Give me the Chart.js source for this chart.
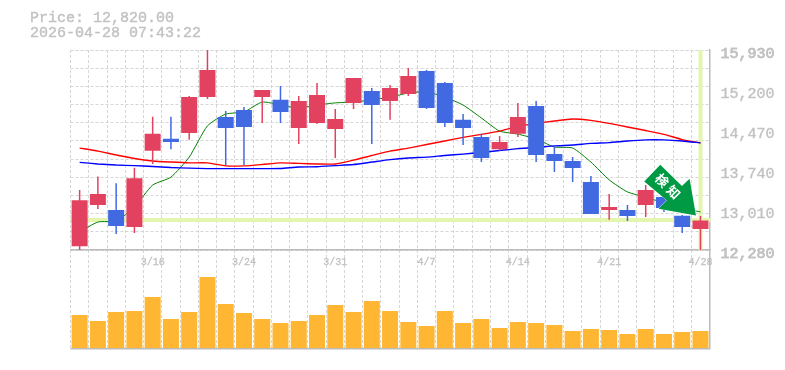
<!DOCTYPE html>
<html>
<head>
<meta charset="utf-8">
<script src="https://cdn.jsdelivr.net/npm/chart.js@4"></script>
<style>
    body { margin: 0; background: #fff; }
    #wrap { position: relative; width: 785px; height: 370px; }
    #title { position: absolute; left: 30px; top: 11px; color: #c2c2c2; font: 15px/15px "Liberation Mono", monospace; white-space: pre; -webkit-text-stroke: 0.4px #c2c2c2; }
</style>
</head>
<body>
<div id="wrap">
    <canvas id="myChart" width="785" height="370"></canvas>
    <div id="title"></div>
</div>
<script>
const labels = ['3/10', '3/11', '3/12', '3/13', '3/16', '3/17', '3/18', '3/19', '3/23', '3/24', '3/25', '3/26',
    '3/27', '3/30', '3/31', '4/1', '4/2', '4/3', '4/6', '4/7', '4/8', '4/9', '4/10', '4/13', '4/14', '4/15',
    '4/16', '4/17', '4/20', '4/21', '4/22', '4/23', '4/24', '4/27', '4/28'];
const shownDates = ['3/16', '3/24', '3/31', '4/7', '4/14', '4/21', '4/28'];
const priceTicks = [15930, 15200, 14470, 13740, 13010, 12280];

const open = [12350, 13100, 13010, 12700, 14090, 14310, 14415, 15070, 14705, 14835, 15070, 15020, 14505, 14600, 14490,
    14965, 15180, 15000, 15125, 15545, 15330, 14655, 14340, 14120, 14400, 14910, 14030, 13905, 13520, 13010,
    13010, 13100, 13245, 12905, 12665];
const close = [13190, 13300, 12720, 13590, 14400, 14250, 15070, 15565, 14505, 14525, 15200, 14800, 15000, 15110, 14670,
    15420, 14925, 15235, 15455, 14870, 14600, 14505, 13960, 14250, 14705, 14015, 13905, 13775, 12935, 13065,
    12900, 13375, 13045, 12700, 12820];
const high = [13375, 13620, 13500, 13780, 14710, 14710, 15090, 15930, 14815, 14890, 15200, 15275, 15090, 15330, 14855,
    15420, 15235, 15290, 15600, 15565, 15345, 14760, 14400, 14360, 14965, 15000, 14180, 13975, 13630, 13300,
    13100, 13465, 13375, 12920, 12900];
const low = [12280, 13030, 12570, 12590, 13850, 14120, 14290, 15035, 13830, 13830, 14600, 14600, 14215, 14580, 13960,
    14855, 14215, 14655, 15090, 14855, 14525, 14195, 13885, 14090, 14340, 13885, 13705, 13520, 12935, 12830,
    12810, 12880, 12975, 12590, 12280];

const maShort = [12610, 12790, 12810, 13065, 13465, 13610, 13975, 14545, 14760, 14800, 14980, 14925, 14870, 14925, 14965,
    14980, 15020, 15070, 15145, 15165, 15070, 14925, 14690, 14450, 14395, 14305, 14160, 14140, 13885, 13560,
    13340, 13245, 13140, 13045, 12975];
const maMid = [14140, 14085, 14015, 13950, 13905, 13885, 13870, 13870, 13815, 13815, 13840, 13870, 13860, 13850, 13850,
    13920, 14005, 14085, 14140, 14205, 14270, 14335, 14390, 14450, 14535, 14590, 14635, 14670, 14645, 14590,
    14525, 14460, 14390, 14295, 14235];
const maLong = [13880, 13850, 13830, 13820, 13805, 13785, 13775, 13765, 13765, 13765, 13765, 13768, 13795, 13800, 13820,
    13840, 13885, 13930, 13960, 13975, 14005, 14030, 14060, 14095, 14130, 14150, 14180, 14195, 14225, 14240,
    14270, 14290, 14290, 14270, 14235];
const volume = [165, 135, 180, 185, 255, 145, 180, 355, 220, 175, 145, 125, 135, 165, 215,
    180, 235, 185, 130, 110, 185, 125, 145, 100, 130, 125, 115, 85, 95, 90,
    70, 95, 70, 80, 85];

const signalText = ['検', '知'];

const RED = '#e2425f';
const BLUE = '#4169e1';
const GRID = '#d6d6d6';
const AXIS = '#bbbbbb';
const TEXT = '#c2c2c2';
const HILITE = '#e4f6ae';
const FONT = '"Liberation Mono", monospace';

const lastIndex = labels.length - 1;
const lastPrice = close[lastIndex];
const candleColors = close.map((c, i) => c >= open[i] ? RED : BLUE);

document.getElementById('title').textContent =
    'Price: ' + lastPrice.toLocaleString('en-US', { minimumFractionDigits: 2 }) + '\n2026-04-28 07:43:22';

// horizontal grid is 11 steps, the labels are 5 steps, so they don't line up
const priceMin = priceTicks[priceTicks.length - 1];
const priceMax = priceTicks[0];
const gridTicks = [];
for (let i = 0; i <= 11; i++) {
    gridTicks.push(priceMin + (priceMax - priceMin) * i / 11);
}

const highlightPlugin = {
    id: 'highlight',
    beforeDatasetsDraw(chart) {
        const c = chart.ctx, area = chart.chartArea;
        const y = Math.round(chart.scales.y.getPixelForValue(lastPrice));
        const x = Math.round(chart.scales.x.getPixelForValue(lastIndex));
        c.save();
        c.fillStyle = HILITE;
        c.fillRect(area.left, y - 2, area.right - area.left + 1, 4);
        c.fillRect(x - 1.5, chart.scales.y.top, 4, chart.scales.y.height);
        c.restore();
    }
};

// green signal arrow, tip sits just left of the last candle
const arrowPlugin = {
    id: 'signalArrow',
    afterDatasetsDraw(chart) {
        const c = chart.ctx;
        const tipX = chart.scales.x.getPixelForValue(lastIndex) - 4.5;
        const tipY = chart.scales.y.getPixelForValue(lastPrice) - 5;
        c.save();
        c.translate(tipX, tipY);
        c.beginPath();
        [[-35.7, -50.7], [-14, -29.3], [-6.4, -36.7], [0, 0], [-37.4, -6.7], [-29, -15], [-51.7, -34]]
            .forEach((p, i) => i ? c.lineTo(p[0], p[1]) : c.moveTo(p[0], p[1]));
        c.closePath();
        c.strokeStyle = 'rgba(255,255,255,0.8)';
        c.lineWidth = 1;
        c.stroke();
        c.fillStyle = '#009944';
        c.fill();
        c.fillStyle = '#fff';
        c.font = 'bold 13px "Noto Sans CJK JP"';
        c.textAlign = 'center';
        c.textBaseline = 'middle';
        [[-34, -35], [-22.4, -23.3]].forEach((p, i) => {
            c.save();
            c.translate(p[0], p[1]);
            c.rotate(Math.PI / 4);
            c.fillText(signalText[i], 0, 0);
            c.restore();
        });
        c.restore();
    }
};

new Chart(document.getElementById('myChart'), {
    data: {
        labels: labels,
        datasets: [
            { type: 'bar', yAxisID: 'y', order: 1, grouped: false, barThickness: 16, inflateAmount: 0,
                data: open.map((o, i) => [o, close[i]]), backgroundColor: candleColors },
            { type: 'bar', yAxisID: 'y', order: 2, grouped: false, barThickness: 1.5, inflateAmount: 0,
                data: low.map((l, i) => [l, high[i]]), backgroundColor: candleColors },
            { type: 'line', yAxisID: 'y', order: 3, data: maLong, borderColor: '#0000ff', borderWidth: 1.4, pointRadius: 0, tension: 0.2 },
            { type: 'line', yAxisID: 'y', order: 4, data: maMid, borderColor: '#ff0000', borderWidth: 1.4, pointRadius: 0, tension: 0.2 },
            { type: 'line', yAxisID: 'y', order: 5, data: maShort, borderColor: '#008000', borderWidth: 1, pointRadius: 0, tension: 0.2 },
            { type: 'bar', yAxisID: 'yv', order: 6, grouped: false, barThickness: 16, inflateAmount: 0,
                data: volume, backgroundColor: '#ffb733' }
        ]
    },
    options: {
        responsive: false,
        animation: false,
        layout: { padding: { left: 70.5, top: 50, bottom: 21, right: 0 } },
        plugins: { legend: { display: false }, tooltip: { enabled: false } },
        scales: {
            x: {
                type: 'category',
                position: { yv: 490 },
                offset: true,
                grid: { offset: true, color: GRID, drawTicks: false, lineWidth: 1 },
                border: { color: AXIS, width: 1.5, dash: [3, 2] },
                ticks: {
                    autoSkip: false,
                    maxRotation: 0,
                    padding: 6,
                    color: TEXT,
                    textStrokeColor: TEXT,
                    textStrokeWidth: 0.3,
                    font: { family: FONT, size: 10 },
                    callback(value) {
                        const d = this.getLabelForValue(value);
                        return shownDates.includes(d) ? d : '';
                    }
                }
            },
            y: {
                position: 'right',
                stack: 'panels',
                stackWeight: 200,
                weight: 1,
                min: priceMin,
                max: priceMax,
                afterFit(scale) { scale.width = 75.4; },
                afterBuildTicks(scale) {
                    scale.ticks = priceTicks.concat(gridTicks).map(v => ({ value: v }));
                },
                grid: {
                    drawTicks: false,
                    lineWidth: 1,
                    color: ctx => gridTicks.includes(ctx.tick.value) ? GRID : 'transparent'
                },
                border: { color: AXIS, width: 1.5, dash: [3, 2] },
                ticks: {
                    autoSkip: false,
                    padding: 11,
                    color: TEXT,
                    textStrokeColor: TEXT,
                    textStrokeWidth: 0.4,
                    // the empty first line pushes the number a few px below its gridline
                    font: { family: FONT, size: 15, lineHeight: '8px' },
                    callback: v => priceTicks.includes(v) ? ['', v.toLocaleString('en-US')] : ''
                }
            },
            yv: {
                position: 'right',
                stack: 'panels',
                stackWeight: 99,
                weight: 2,
                min: -5,
                max: 490,
                afterFit(scale) { scale.width = 75.4; },
                afterBuildTicks(scale) { scale.ticks = [{ value: -5 }]; },
                grid: { drawTicks: false, color: AXIS, lineWidth: 1.5 },
                border: { color: AXIS, width: 1.5 },
                ticks: { display: false }
            }
        }
    },
    plugins: [highlightPlugin, arrowPlugin]
});
</script>
</body>
</html>
